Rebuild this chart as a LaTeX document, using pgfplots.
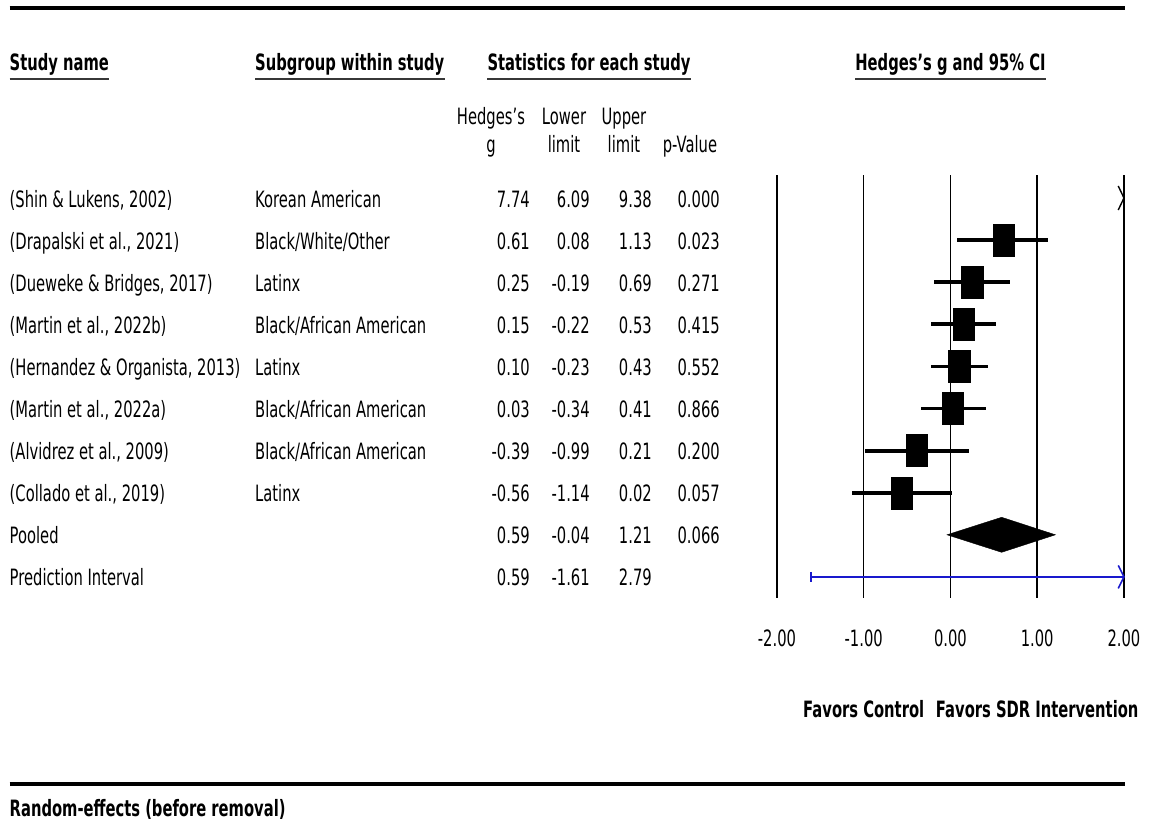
\documentclass[border=0pt]{standalone}
\usepackage{pgfplots}
\pgfplotsset{compat=1.18}
\usepackage{pgfplotstable}
\usepackage{fontspec}
\setmainfont{DejaVu Sans}[FakeStretch=0.655]
\definecolor{piblue}{RGB}{25,25,205}
\definecolor{rulegray}{RGB}{55,55,55}

% study-level effects (Hedges's g with 95% CI), rows counted from the top
\pgfplotstableread{
row g lo hi
2 0.61 0.08 1.13
3 0.25 -0.19 0.69
4 0.15 -0.22 0.53
5 0.10 -0.23 0.43
6 0.03 -0.34 0.41
7 -0.39 -0.99 0.21
8 -0.56 -1.14 0.02
}\studies

\tikzset{
  tabrow/.style={inner sep=0pt, yshift=-9pt},
  txt/.style={tabrow, anchor=base west},
  num/.style={tabrow, anchor=base east},
  colhead/.style={inner sep=0pt, anchor=base},
  head/.style={inner sep=0pt, font=\bfseries},
  uline/.style={line width=2.5pt, rulegray},
}

\begin{document}
\fontsize{22.5}{27}\selectfont
\begin{tikzpicture}
\begin{axis}[
  scale only axis, width=347pt, height=423pt,
  xmin=-2, xmax=2, ymin=0.4537, ymax=10.501, y dir=reverse,
  axis line style={draw=none}, ytick=\empty,
  xtick={-2,-1,0,1,2},
  xticklabels={-2.00,-1.00,0.00,1.00,2.00},
  major tick length=0pt,
  xticklabel style={anchor=base, inner sep=0pt, yshift=-48.5pt},
  clip mode=individual,
]
% page frame
\path (axis cs:-10.957,-3.703) rectangle (axis cs:2.300,15.893);

% reference lines
\draw[line width=1.4pt] (axis cs:-2,0.4537) -- (axis cs:-2,10.501);
\draw[line width=1.4pt] (axis cs:-1,0.4537) -- (axis cs:-1,10.501);
\draw[line width=1.4pt] (axis cs:0,0.4537) -- (axis cs:0,10.501);
\draw[line width=2.3pt] (axis cs:1,0.4537) -- (axis cs:1,10.501);
\draw[line width=1.4pt] (axis cs:2,0.4537) -- (axis cs:2,10.501);

% individual studies
\addplot[only marks, mark=square*, mark size=16pt,
  mark options={xscale=0.66, fill=black, draw=black},
  error bars/.cd, x dir=both, x explicit, error mark=none,
  error bar style={line width=3.8pt, black}]
  table[x=g, y=row,
        x error minus expr=\thisrow{g}-\thisrow{lo},
        x error plus expr=\thisrow{hi}-\thisrow{g}] {\studies};

% Shin & Lukens lies beyond the scale: arrow at the edge
\draw[line width=1.4pt] (axis cs:1.934,0.715) -- (axis cs:2,1) -- (axis cs:1.934,1.285);

% pooled estimate
\addplot[fill=black, draw=black] coordinates {(-0.04,9) (0.59,8.584) (1.21,9) (0.59,9.416)} -- cycle;

% prediction interval
\addplot[piblue, line width=2pt] coordinates {(-1.61,10) (2.79,10)};
\addplot[piblue, line width=2pt] coordinates {(-1.61,9.88) (-1.61,10.12)};
\draw[piblue, line width=1.6pt] (axis cs:1.934,9.727) -- (axis cs:2,10) -- (axis cs:1.934,10.273);

% rules
\draw[line width=4.5pt] (axis cs:-10.847,-3.513) -- (axis cs:2.012,-3.513);
\draw[line width=4pt] (axis cs:-10.847,14.919) -- (axis cs:2.012,14.919);

% section headings
\node[head, anchor=base west] (h1) at (axis cs:-10.847,-2.017) {Study name};
\node[head, anchor=base west] (h2) at (axis cs:-8.017,-2.017) {Subgroup within study};
\node[head, anchor=base] (h3) at (axis cs:-4.167,-2.017) {Statistics for each study};
\node[head, anchor=base] (h4) at (axis cs:0,-2.017) {Hedges's g and 95\% CI};
\draw[uline] ([yshift=-8pt]h1.base west) -- ([yshift=-8pt]h1.base east);
\draw[uline] ([yshift=-8pt]h2.base west) -- ([yshift=-8pt]h2.base east);
\draw[uline] ([yshift=-8pt]h3.base west) -- ([yshift=-8pt]h3.base east);
\draw[uline] ([yshift=-8pt]h4.base west) -- ([yshift=-8pt]h4.base east);

% column headings
\node[colhead] at (axis cs:-5.297,-0.734) {Hedges's};
\node[colhead] at (axis cs:-5.297,-0.069) {g};
\node[colhead] at (axis cs:-4.455,-0.734) {Lower};
\node[colhead] at (axis cs:-4.455,-0.069) {limit};
\node[colhead] at (axis cs:-3.764,-0.734) {Upper};
\node[colhead] at (axis cs:-3.764,-0.069) {limit};
\node[colhead] at (axis cs:-3.003,-0.069) {p-Value};

% study names
\node[txt] at (axis cs:-10.847,1) {(Shin \& Lukens, 2002)};
\node[txt] at (axis cs:-10.847,2) {(Drapalski et al., 2021)};
\node[txt] at (axis cs:-10.847,3) {(Dueweke \& Bridges, 2017)};
\node[txt] at (axis cs:-10.847,4) {(Martin et al., 2022b)};
\node[txt] at (axis cs:-10.847,5) {(Hernandez \& Organista, 2013)};
\node[txt] at (axis cs:-10.847,6) {(Martin et al., 2022a)};
\node[txt] at (axis cs:-10.847,7) {(Alvidrez et al., 2009)};
\node[txt] at (axis cs:-10.847,8) {(Collado et al., 2019)};
\node[txt] at (axis cs:-10.847,9) {Pooled};
\node[txt] at (axis cs:-10.847,10) {Prediction Interval};

% subgroups
\node[txt] at (axis cs:-8.017,1) {Korean American};
\node[txt] at (axis cs:-8.017,2) {Black/White/Other};
\node[txt] at (axis cs:-8.017,3) {Latinx};
\node[txt] at (axis cs:-8.017,4) {Black/African American};
\node[txt] at (axis cs:-8.017,5) {Latinx};
\node[txt] at (axis cs:-8.017,6) {Black/African American};
\node[txt] at (axis cs:-8.017,7) {Black/African American};
\node[txt] at (axis cs:-8.017,8) {Latinx};

% statistics
\node[num] at (axis cs:-4.847,1) {7.74};  \node[num] at (axis cs:-4.156,1) {6.09};  \node[num] at (axis cs:-3.441,1) {9.38}; \node[num] at (axis cs:-2.657,1) {0.000};
\node[num] at (axis cs:-4.847,2) {0.61};  \node[num] at (axis cs:-4.156,2) {0.08};  \node[num] at (axis cs:-3.441,2) {1.13}; \node[num] at (axis cs:-2.657,2) {0.023};
\node[num] at (axis cs:-4.847,3) {0.25};  \node[num] at (axis cs:-4.156,3) {-0.19}; \node[num] at (axis cs:-3.441,3) {0.69}; \node[num] at (axis cs:-2.657,3) {0.271};
\node[num] at (axis cs:-4.847,4) {0.15};  \node[num] at (axis cs:-4.156,4) {-0.22}; \node[num] at (axis cs:-3.441,4) {0.53}; \node[num] at (axis cs:-2.657,4) {0.415};
\node[num] at (axis cs:-4.847,5) {0.10};  \node[num] at (axis cs:-4.156,5) {-0.23}; \node[num] at (axis cs:-3.441,5) {0.43}; \node[num] at (axis cs:-2.657,5) {0.552};
\node[num] at (axis cs:-4.847,6) {0.03};  \node[num] at (axis cs:-4.156,6) {-0.34}; \node[num] at (axis cs:-3.441,6) {0.41}; \node[num] at (axis cs:-2.657,6) {0.866};
\node[num] at (axis cs:-4.847,7) {-0.39}; \node[num] at (axis cs:-4.156,7) {-0.99}; \node[num] at (axis cs:-3.441,7) {0.21}; \node[num] at (axis cs:-2.657,7) {0.200};
\node[num] at (axis cs:-4.847,8) {-0.56}; \node[num] at (axis cs:-4.156,8) {-1.14}; \node[num] at (axis cs:-3.441,8) {0.02}; \node[num] at (axis cs:-2.657,8) {0.057};
\node[num] at (axis cs:-4.847,9) {0.59};  \node[num] at (axis cs:-4.156,9) {-0.04}; \node[num] at (axis cs:-3.441,9) {1.21}; \node[num] at (axis cs:-2.657,9) {0.066};
\node[num] at (axis cs:-4.847,10) {0.59}; \node[num] at (axis cs:-4.156,10) {-1.61}; \node[num] at (axis cs:-3.441,10) {2.79};

% direction labels and footer
\node[head, anchor=base] at (axis cs:-1,13.35) {Favors Control};
\node[head, anchor=base] at (axis cs:1,13.35) {Favors SDR Intervention};
\node[head, anchor=base west] at (axis cs:-10.847,15.69) {Random-effects (before removal)};
\end{axis}
\end{tikzpicture}
\end{document}
